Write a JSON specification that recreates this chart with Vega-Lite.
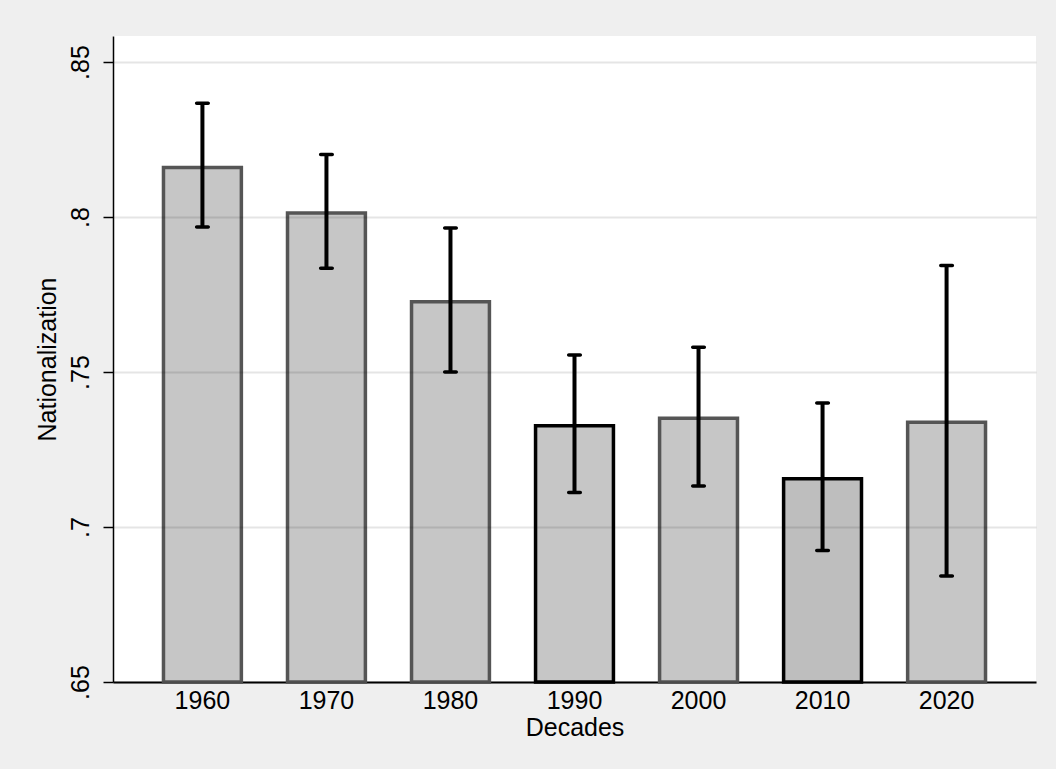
{
  "$schema": "https://vega.github.io/schema/vega-lite/v6.json",
  "autosize": "none",
  "width": 923,
  "height": 646,
  "padding": {"left": 113, "top": 36, "right": 20, "bottom": 87},
  "background": "#efefef",
  "config": {
    "view": {"fill": "white", "stroke": null},
    "font": "Liberation Sans"
  },
  "data": {
    "values": [
      {"decade": 1960, "mean": 0.816, "lo": 0.7968, "hi": 0.8367},
      {"decade": 1970, "mean": 0.8013, "lo": 0.7835, "hi": 0.8202},
      {"decade": 1980, "mean": 0.7727, "lo": 0.75, "hi": 0.7965},
      {"decade": 1990, "mean": 0.7327, "lo": 0.7111, "hi": 0.7555},
      {"decade": 2000, "mean": 0.7351, "lo": 0.7132, "hi": 0.758},
      {"decade": 2010, "mean": 0.7156, "lo": 0.6924, "hi": 0.74},
      {"decade": 2020, "mean": 0.7338, "lo": 0.6842, "hi": 0.7844}
    ]
  },
  "encoding": {
    "x": {
      "field": "decade",
      "type": "ordinal",
      "scale": {"paddingInner": 0.372, "paddingOuter": 0.407},
      "axis": {
        "title": "Decades",
        "labelAngle": 0,
        "labelFontSize": 25,
        "labelColor": "black",
        "labelBaseline": "alphabetic",
        "labelPadding": 26,
        "ticks": false,
        "tickSize": 0,
        "domainColor": "black",
        "domainWidth": 2,
        "titleFontSize": 25,
        "titleFontWeight": "normal",
        "titleColor": "black",
        "titleBaseline": "alphabetic",
        "titleY": 53,
        "grid": false
      }
    }
  },
  "layer": [
    {
      "mark": {"type": "bar", "strokeWidth": 3.5},
      "encoding": {
        "y": {
          "field": "mean",
          "type": "quantitative",
          "scale": {"domain": [0.65, 0.8584], "nice": false, "zero": false},
          "axis": {
            "title": "Nationalization",
            "values": [0.65, 0.7, 0.75, 0.8, 0.85],
            "labelExpr": "substring(format(datum.value, '.2~f'), 1)",
            "labelAngle": 270,
            "labelAlign": "center",
            "labelBaseline": "alphabetic",
            "labelFontSize": 25,
            "labelColor": "black",
            "labelPadding": 15,
            "tickSize": 10,
            "tickColor": "black",
            "tickWidth": 1.5,
            "domainColor": "black",
            "domainWidth": 1.5,
            "grid": true,
            "gridColor": "black",
            "gridOpacity": 0.1,
            "gridWidth": 2,
            "zindex": 1,
            "titleFontSize": 25,
            "titleFontWeight": "normal",
            "titleColor": "black",
            "titleAngle": 270,
            "titleAlign": "center",
            "titleBaseline": "alphabetic",
            "titleX": -58,
            "titleY": 323
          }
        },
        "y2": {"datum": 0.65},
        "fill": {
          "condition": {"test": "datum.decade == 2010", "value": "#bebebe"},
          "value": "#c6c6c6"
        },
        "stroke": {
          "condition": {"test": "datum.decade == 1990 || datum.decade == 2010", "value": "#000000"},
          "value": "#555555"
        }
      }
    },
    {
      "mark": {"type": "rule", "color": "black", "strokeWidth": 4},
      "encoding": {
        "y": {"field": "lo", "type": "quantitative"},
        "y2": {"field": "hi"}
      }
    },
    {
      "mark": {"type": "tick", "color": "black", "size": 15, "thickness": 3.5, "cornerRadius": 1.75, "opacity": 1},
      "encoding": {
        "y": {"field": "lo", "type": "quantitative"}
      }
    },
    {
      "mark": {"type": "tick", "color": "black", "size": 15, "thickness": 3.5, "cornerRadius": 1.75, "opacity": 1},
      "encoding": {
        "y": {"field": "hi", "type": "quantitative"}
      }
    }
  ]
}
